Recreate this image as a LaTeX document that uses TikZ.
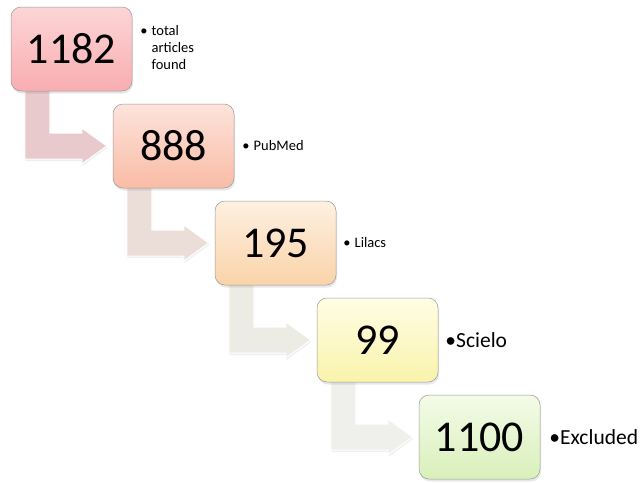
\documentclass[tikz,border=0pt]{standalone}
\usepackage{fontspec}
\setmainfont{Carlito}
\usetikzlibrary{calc,shadows}
\definecolor{bAtop}{HTML}{FCD5D7}\definecolor{bAbot}{HTML}{F9ADB1}
\definecolor{bBtop}{HTML}{FDE3DB}\definecolor{bBbot}{HTML}{F9BCA6}
\definecolor{bCtop}{HTML}{FEF0E1}\definecolor{bCbot}{HTML}{FAD3A9}
\definecolor{bDtop}{HTML}{FFFDE5}\definecolor{bDbot}{HTML}{F9F3AB}
\definecolor{bEtop}{HTML}{F3FBE8}\definecolor{bEbot}{HTML}{D9F0BA}
\definecolor{arA}{HTML}{E8C9CC}
\definecolor{arB}{HTML}{EBDED8}
\definecolor{arC}{HTML}{EDECE4}
\definecolor{arD}{HTML}{EFF0EB}
\definecolor{edge}{HTML}{9A9A9A}
\tikzset{
  numbox/.style={draw=edge, line width=0.5pt, rounded corners=10pt,
    minimum width=121pt, minimum height=84pt, inner sep=0pt,
    font=\fontsize{44}{44}\selectfont,
    drop shadow={opacity=0.18, shadow xshift=1pt, shadow yshift=-2.5pt}},
  smalllab/.style={anchor=west, inner sep=0pt, font=\fontsize{14.5}{17}\selectfont, align=left},
  biglab/.style={anchor=west, inner sep=0pt, font=\fontsize{21.5}{24}\selectfont},
  bentarrow/.style={draw=white, line width=1pt,
    drop shadow={opacity=0.12, shadow xshift=0.5pt, shadow yshift=-2pt}}
}
\newcommand\myarrow[3]{%
  \path[bentarrow, fill=#3] let \p1=(#1.south west), \p2=(#2.west) in
    (\x1+14pt,\y1+1pt) -- (\x1+39pt,\y1+1pt) -- (\x1+39pt,\y2+13pt)
    -- (\x2-31pt,\y2+13pt) -- (\x2-31pt,\y2+18pt) -- (\x2-6pt,\y2)
    -- (\x2-31pt,\y2-18pt) -- (\x2-31pt,\y2-13pt) -- (\x1+14pt,\y2-13pt) -- cycle;}
\begin{document}
\begin{tikzpicture}[x=1pt,y=-1pt]
\useasboundingbox[fill=white] (0,0) rectangle (644,482);
\path (71.5,49) coordinate (c1) (173.5,146) coordinate (c2) (275.5,243) coordinate (c3)
      (377.5,340) coordinate (c4) (479.5,437) coordinate (c5);
\path (c1) node[minimum width=121pt, minimum height=84pt] (p1) {}
      (c2) node[minimum width=121pt, minimum height=84pt] (p2) {}
      (c3) node[minimum width=121pt, minimum height=84pt] (p3) {}
      (c4) node[minimum width=121pt, minimum height=84pt] (p4) {}
      (c5) node[minimum width=121pt, minimum height=84pt] (p5) {};
\myarrow{p1}{p2}{arA}
\myarrow{p2}{p3}{arB}
\myarrow{p3}{p4}{arC}
\myarrow{p4}{p5}{arD}
\node[numbox, top color=bAtop, bottom color=bAbot] (b1) at (c1) {1182};
\node[numbox, top color=bBtop, bottom color=bBbot] (b2) at (c2) {888};
\node[numbox, top color=bCtop, bottom color=bCbot] (b3) at (c3) {195};
\node[numbox, top color=bDtop, bottom color=bDbot] (b4) at (c4) {99};
\node[numbox, top color=bEtop, bottom color=bEbot] (b5) at (c5) {1100};
\node[smalllab] (l1) at ($(b1.east)+(8,0)$)
  {\begin{tabular}{@{}l@{\hspace{4pt}}l@{}}\textbullet & total\\ & articles\\ & found\end{tabular}};
\node[smalllab] (l2) at ($(b2.east)+(8,0)$) {\textbullet\hspace{4pt}PubMed};
\node[smalllab] (l3) at ($(b3.east)+(7,0)$) {\textbullet\hspace{4pt}Lilacs};
\node[biglab] (l4) at ($(b4.east)+(7,0)$) {\textbullet Scielo};
\node[biglab] (l5) at ($(b5.east)+(9,0)$) {\textbullet Excluded};
\end{tikzpicture}
\end{document}
